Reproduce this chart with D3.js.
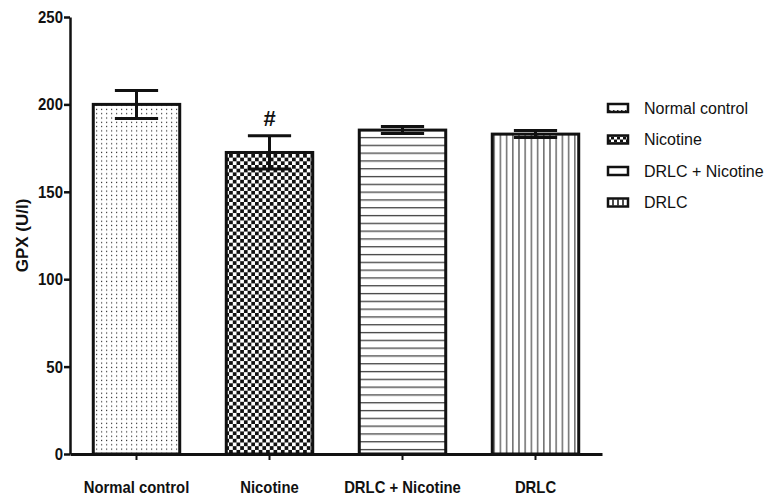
<!DOCTYPE html>
<html>
<head>
<meta charset="utf-8">
<script src="https://cdn.jsdelivr.net/npm/d3@7"></script>
<style>
  body { margin: 0; background: #fff; }
  text { font-family: "Liberation Sans", Arial, sans-serif; fill: #111; }
</style>
</head>
<body>
<div id="chart"></div>
<script>
// chart data
var groups = ["Normal control", "Nicotine", "DRLC + Nicotine", "DRLC"];
var means = [200, 172.5, 185.3, 183];
var sems = [8, 9.5, 2, 2];
var patterns = ["dots", "checks", "hlines", "vlines"];
var yTicks = [0, 50, 100, 150, 200, 250];

// set the dimensions and margins of the graph
var margin = {top: 17, right: 169, bottom: 45, left: 70},
    width = 771 - margin.left - margin.right,
    height = 499 - margin.top - margin.bottom;

var svg = d3.select("#chart").append("svg")
    .attr("width", 771)
    .attr("height", 499);

// patterns for the bar fills
var defs = svg.append("defs");

var pDots = defs.append("pattern").attr("id", "dots")
    .attr("patternUnits", "userSpaceOnUse").attr("width", 5).attr("height", 4.3);
pDots.append("rect").attr("width", 5).attr("height", 4.3).attr("fill", "#fff");
pDots.append("rect").attr("x", 1).attr("y", 1.5).attr("width", 1.2).attr("height", 1.2).attr("fill", "#333");

var pChecks = defs.append("pattern").attr("id", "checks")
    .attr("patternUnits", "userSpaceOnUse").attr("width", 7.4).attr("height", 7.4);
pChecks.append("rect").attr("width", 7.4).attr("height", 7.4).attr("fill", "#fff");
pChecks.append("rect").attr("width", 3.7).attr("height", 3.7).attr("fill", "#111");
pChecks.append("rect").attr("x", 3.7).attr("y", 3.7).attr("width", 3.7).attr("height", 3.7).attr("fill", "#111");

var pH = defs.append("pattern").attr("id", "hlines")
    .attr("patternUnits", "userSpaceOnUse").attr("width", 8).attr("height", 7.8);
pH.append("rect").attr("width", 8).attr("height", 7.8).attr("fill", "#fff");
pH.append("rect").attr("y", 3).attr("width", 8).attr("height", 1.2).attr("fill", "#333");

var pV = defs.append("pattern").attr("id", "vlines")
    .attr("patternUnits", "userSpaceOnUse").attr("width", 6.2).attr("height", 8);
pV.append("rect").attr("width", 6.2).attr("height", 8).attr("fill", "#fff");
pV.append("rect").attr("x", 2).attr("width", 1.2).attr("height", 8).attr("fill", "#444");

// legend patterns are smaller versions
var lDots = defs.append("pattern").attr("id", "ldots")
    .attr("patternUnits", "userSpaceOnUse").attr("width", 4).attr("height", 8);
lDots.append("rect").attr("width", 4).attr("height", 8).attr("fill", "#fff");
lDots.append("rect").attr("x", 1).attr("y", 2).attr("width", 1.5).attr("height", 1.5).attr("fill", "#333");

var lChecks = defs.append("pattern").attr("id", "lchecks")
    .attr("patternUnits", "userSpaceOnUse").attr("width", 6).attr("height", 6);
lChecks.append("rect").attr("width", 6).attr("height", 6).attr("fill", "#fff");
lChecks.append("rect").attr("width", 3).attr("height", 3).attr("fill", "#111");
lChecks.append("rect").attr("x", 3).attr("y", 3).attr("width", 3).attr("height", 3).attr("fill", "#111");

var g = svg.append("g")
    .attr("transform", "translate(" + margin.left + "," + margin.top + ")");

// set the ranges
var x = d3.scaleBand()
    .domain(groups)
    .range([0, width])
    .paddingInner(0.35)
    .paddingOuter(0.175);

var y = d3.scaleLinear()
    .domain([0, 250])
    .range([height, 0]);

// bars
g.selectAll(".bar")
    .data(groups)
  .enter().append("rect")
    .attr("class", "bar")
    .attr("x", function(d) { return x(d); })
    .attr("width", x.bandwidth())
    .attr("y", function(d, i) { return y(means[i]); })
    .attr("height", function(d, i) { return height - y(means[i]); })
    .attr("fill", function(d, i) { return "url(#" + patterns[i] + ")"; })
    .attr("stroke", "#111")
    .attr("stroke-width", 3);

// error bars
var capW = x.bandwidth() / 2;
var err = g.selectAll(".err")
    .data(groups)
  .enter().append("g")
    .attr("class", "err")
    .attr("stroke", "#111")
    .attr("stroke-width", 3);

err.append("line")
    .attr("x1", function(d) { return x(d) + x.bandwidth() / 2; })
    .attr("x2", function(d) { return x(d) + x.bandwidth() / 2; })
    .attr("y1", function(d, i) { return y(means[i] + sems[i]); })
    .attr("y2", function(d, i) { return y(means[i] - sems[i]); });
err.append("line")
    .attr("x1", function(d) { return x(d) + x.bandwidth() / 2 - capW / 2; })
    .attr("x2", function(d) { return x(d) + x.bandwidth() / 2 + capW / 2; })
    .attr("y1", function(d, i) { return y(means[i] + sems[i]); })
    .attr("y2", function(d, i) { return y(means[i] + sems[i]); });
err.append("line")
    .attr("x1", function(d) { return x(d) + x.bandwidth() / 2 - capW / 2; })
    .attr("x2", function(d) { return x(d) + x.bandwidth() / 2 + capW / 2; })
    .attr("y1", function(d, i) { return y(means[i] - sems[i]); })
    .attr("y2", function(d, i) { return y(means[i] - sems[i]); });

// significance mark
g.append("text")
    .attr("x", x("Nicotine") + x.bandwidth() / 2)
    .attr("y", y(means[1] + sems[1]) - 10)
    .attr("text-anchor", "middle")
    .style("font-size", "22px")
    .style("font-weight", "bold")
    .text("#");

// add the x Axis
var xAxis = g.append("g")
    .attr("transform", "translate(0," + height + ")")
    .call(d3.axisBottom(x).tickSize(6).tickSizeOuter(0));
xAxis.select(".domain").attr("stroke-width", 3).attr("stroke", "#111");
xAxis.selectAll(".tick line").attr("stroke-width", 2).attr("stroke", "#111");
xAxis.selectAll(".tick text")
    .attr("y", 27)
    .attr("transform", "scale(0.9,1)")
    .style("font-size", "16.5px")
    .style("font-weight", "bold")
    .style("font-family", "'Liberation Sans', Arial, sans-serif");

// add the y Axis
var yAxis = g.append("g")
    .call(d3.axisLeft(y).tickValues(yTicks).tickSize(6).tickSizeOuter(0));
yAxis.select(".domain").attr("stroke-width", 2.5).attr("stroke", "#111");
yAxis.selectAll(".tick line").attr("stroke-width", 2.5).attr("stroke", "#111");
yAxis.selectAll(".tick text")
    .attr("x", -8)
    .attr("transform", "scale(0.88,1)")
    .style("font-size", "17px")
    .style("font-weight", "bold")
    .style("font-family", "'Liberation Sans', Arial, sans-serif");

// y axis title
svg.append("text")
    .attr("transform", "translate(28," + (margin.top + height / 2) + ") rotate(-90)")
    .attr("text-anchor", "middle")
    .style("font-family", "'Liberation Sans', Arial, sans-serif")
    .style("font-size", "17px")
    .style("font-weight", "bold")
    .text("GPX (U/l)");

// legend
var legendFills = ["url(#ldots)", "url(#lchecks)", "#fff", "#fff"];
var legend = svg.selectAll(".legend")
    .data(groups)
  .enter().append("g")
    .attr("class", "legend")
    .attr("transform", function(d, i) { return "translate(608," + (108 + i * 31.5) + ")"; });

legend.append("rect")
    .attr("x", 0)
    .attr("y", -4)
    .attr("width", 20)
    .attr("height", 8)
    .attr("fill", function(d, i) { return legendFills[i]; })
    .attr("stroke", "#111")
    .attr("stroke-width", 2.5);

legend.filter(function(d, i) { return i === 3; })
    .selectAll(".vl")
    .data([5, 10, 15])
  .enter().append("line")
    .attr("x1", function(d) { return d; })
    .attr("x2", function(d) { return d; })
    .attr("y1", -3)
    .attr("y2", 3)
    .attr("stroke", "#111")
    .attr("stroke-width", 1.5);

legend.append("text")
    .attr("x", 36)
    .attr("y", 0)
    .attr("dy", "0.35em")
    .style("font-family", "'Liberation Sans', Arial, sans-serif")
    .style("font-size", "16px")
    .text(function(d) { return d; });
</script>
</body>
</html>
